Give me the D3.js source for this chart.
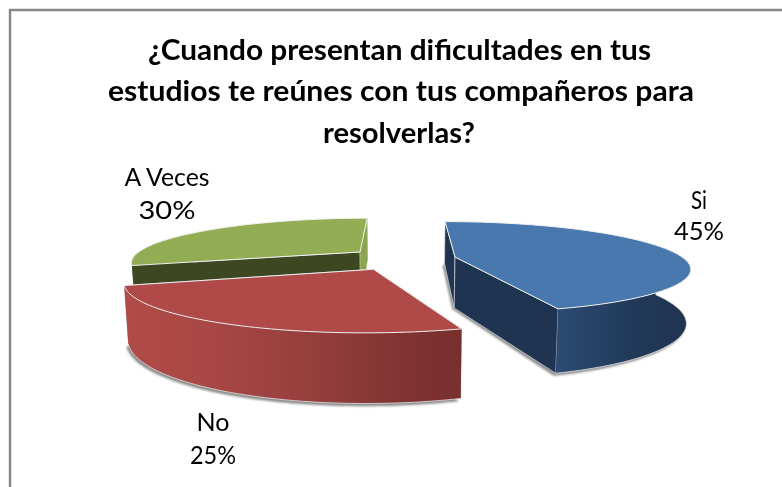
<!DOCTYPE html>
<html><head><meta charset="utf-8">
<script src="https://cdn.jsdelivr.net/npm/d3@7"></script>
<style>html,body{margin:0;padding:0;background:#fff}svg{display:block}text{font-family:Lato,sans-serif;fill:#000}</style>
</head><body><svg id="c" width="782" height="487"></svg>
<script>
const categories = ["Si", "No", "A Veces"];
const values = [45, 25, 30];
const titleLines = ["¿Cuando presentan dificultades en tus", "estudios te reúnes con tus compañeros para", "resolverlas?"];

// layout (screen-space styling, not data)
const titleBox = [[148,503,60],[108,586,101],[323,152,143]];
const labelAt = [[699,216,707],[213,431,464],[167,186,219]];
const labelWidths = [[16,50],[33,46],[85,57]];
const labelBase = [[209,240],[431,464],[186,219]];
const explode = [[55,0],[-25,61],[-41,-27]];
const topColor = ["#4878ae","#af4a48","#93ad55"];
const startWall = ["#1f3450","#7a2f2e","#3d4722"];
const endWall = ["#1f3450","#7a2f2e","#8ca34f"];
const wallRange = [[75,162],[162,252],[252,300]];
const R = 227, f = 1036, vx = 400, hy = 60, D = 197, depth = 51, bottomScale = 0.985;

const rad = d => d*Math.PI/180;
const project = (gx, gz, drop) => {
  const w = f/(f-gz);
  const k = drop ? bottomScale : 1;
  return [vx + gx*w*k, hy + (D + drop)*w];
};
const svg = d3.select("#c");
const defs = svg.append("defs");
const blur = defs.append("filter").attr("id","sh").attr("x","-10%").attr("y","-10%").attr("width","120%").attr("height","120%");
blur.append("feGaussianBlur").attr("stdDeviation",1.3);

const gBlue = defs.append("linearGradient").attr("id","wall0");
[[0,"#2c4c73"],[0.55,"#213a59"],[1,"#1f3450"]].forEach(s=>gBlue.append("stop").attr("offset",s[0]).attr("stop-color",s[1]));
const gRed = defs.append("linearGradient").attr("id","wall1");
[[0,"#b04b49"],[0.25,"#a84745"],[0.55,"#963f3d"],[0.85,"#7f3331"],[1,"#782f2e"]].forEach(s=>gRed.append("stop").attr("offset",s[0]).attr("stop-color",s[1]));
const gGreen = defs.append("linearGradient").attr("id","wall2");
gGreen.append("stop").attr("offset",0).attr("stop-color","#3d4722");
gGreen.append("stop").attr("offset",1).attr("stop-color","#3d4722");

// frame
svg.append("path").attr("d","M10,487V10H782").attr("fill","none").attr("stroke","#868686").attr("stroke-width",2.4);

const pie = d3.pie().sort(null).value(d=>d).startAngle(0).endAngle(2*Math.PI);
const arcs = pie(values);
const line = d3.line();

function arcPts(i,a0,a1,drop){
  const [ex,ez] = explode[i];
  return d3.range(0,61).map(t=>{
    const a = a0+(a1-a0)*t/60;
    return project(ex+R*Math.sin(a), ez-R*Math.cos(a), drop);
  });
}
const apex = (i,drop)=>project(explode[i][0],explode[i][1],drop);
const paint = [2,0,1];

// shadows
const shadow = svg.append("g").attr("filter","url(#sh)");
paint.forEach(i=>{
  const a=arcs[i];
  const pts=[apex(i,depth+1),...arcPts(i,a.startAngle,a.endAngle,depth+2)];
  shadow.append("path").attr("d",line(pts)+"Z").attr("fill","#8c8c8c").attr("transform","translate(-2,0)");
});

paint.forEach(i=>{
  const a=arcs[i];
  const g=svg.append("g");
  const sT=arcPts(i,a.startAngle,a.startAngle,0)[0], sB=arcPts(i,a.startAngle,a.startAngle,depth)[0];
  const eT=arcPts(i,a.endAngle,a.endAngle,0)[0], eB=arcPts(i,a.endAngle,a.endAngle,depth)[0];
  // radial walls
  g.append("path").attr("d",line([apex(i,0),sT,sB,apex(i,depth)])+"Z").attr("fill",startWall[i]).attr("stroke","#d5d9de").attr("stroke-width",0.7);
  g.append("path").attr("d",line([apex(i,0),eT,eB,apex(i,depth)])+"Z").attr("fill",endWall[i]).attr("stroke",i==2?"#a6b873":"#d5d9de").attr("stroke-width",0.7);
  // outer wall
  const wr=wallRange[i].map(rad);
  g.append("path").attr("d",line([...arcPts(i,wr[0],wr[1],0),...arcPts(i,wr[0],wr[1],depth).reverse()])+"Z").attr("fill",`url(#wall${i})`);
  if(i!==2) g.append("path").attr("d",line(arcPts(i,wr[0],wr[1],depth))).attr("fill","none").attr("stroke","#e2e2e2").attr("stroke-width",0.8);
  // top
  g.append("path").attr("d",line([apex(i,0),...arcPts(i,a.startAngle,a.endAngle,0)])+"Z").attr("fill",topColor[i]).attr("stroke","#f0f0f0").attr("stroke-width",1).attr("stroke-linejoin","round");
});

titleLines.forEach((t,i)=>{
  svg.append("text").text(t).attr("x",titleBox[i][0]).attr("y",titleBox[i][2])
    .attr("font-size",28).attr("font-weight",700)
    .attr("textLength",titleBox[i][1]).attr("lengthAdjust","spacingAndGlyphs");
});
categories.forEach((c,i)=>{
  const cx=labelAt[i][0];
  svg.append("text").text(c).attr("x",cx-labelWidths[i][0]/2).attr("y",labelBase[i][0]).attr("font-size",25)
    .attr("textLength",labelWidths[i][0]).attr("lengthAdjust","spacingAndGlyphs");
  svg.append("text").text(Math.round(values[i]/d3.sum(values)*100)+"%").attr("x",cx-labelWidths[i][1]/2).attr("y",labelBase[i][1]).attr("font-size",25)
    .attr("textLength",labelWidths[i][1]).attr("lengthAdjust","spacingAndGlyphs");
});
</script></body></html>
